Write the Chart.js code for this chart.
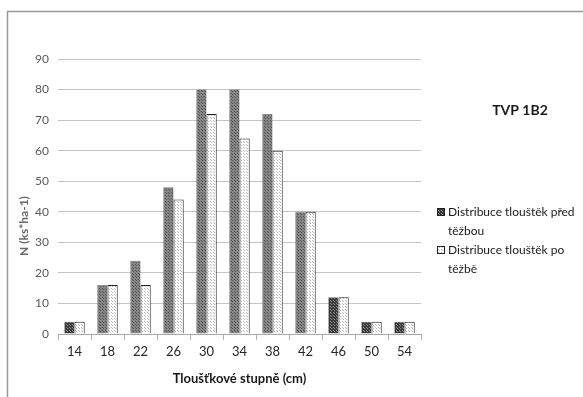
<!DOCTYPE html>
<html>
<head>
<meta charset="utf-8">
<script src="https://cdn.jsdelivr.net/npm/chart.js@4/dist/chart.umd.min.js"></script>
<style>
  html, body { margin: 0; padding: 0; background: #fff; }
  #wrap { width: 583px; height: 397px; position: relative; }
</style>
</head>
<body>
<div id="wrap"><canvas id="c" width="583" height="397"></canvas></div>
<script>
// Diameter classes (cm) and stem counts per hectare
const categories = ['14', '18', '22', '26', '30', '34', '38', '42', '46', '50', '54'];
const beforeHarvest = [4, 16, 24, 48, 80, 80, 72, 40, 12, 4, 4];
const afterHarvest = [4, 16, 16, 44, 72, 64, 60, 40, 12, 4, 4];
const yTicks = [0, 10, 20, 30, 40, 50, 60, 70, 80, 90];
const seriesNames = ['Distribuce tlouštěk před těžbou', 'Distribuce tlouštěk po těžbě'];
const chartTitle = 'TVP 1B2';
const yTitle = 'N (ks*ha-1)';
const xTitle = 'Tloušťkové stupně (cm)';

const FONT = 'Lato, "Open Sans", sans-serif';

// Stippled fills
function dotPattern(bg, dot, size) {
  const c = document.createElement('canvas');
  c.width = size; c.height = size;
  const g = c.getContext('2d');
  g.fillStyle = bg; g.fillRect(0, 0, size, size);
  g.fillStyle = dot;
  g.fillRect(0, 0, 1, 1);
  g.fillRect(Math.floor(size / 2), Math.floor(size / 2), 1, 1);
  return g.createPattern(c, 'repeat');
}
const ctx0 = document.getElementById('c').getContext('2d');
const grayFill = dotPattern('#858585', '#555555', 3);
const darkFill = dotPattern('#3c3c3c', '#8a8a8a', 3);
const whiteFill = dotPattern('#ffffff', '#b8b8b8', 3);
const darkCats = ['14', '46', '50', '54'];
const beforeFill = categories.map(c => darkCats.includes(c) ? darkFill : grayFill);

// Frame lines, titles and legend
const decor = {
  id: 'decor',
  beforeDraw(chart) {
    const g = chart.ctx;
    g.save();
    g.strokeStyle = '#9a9a9a';
    g.lineWidth = 1.5;
    g.beginPath();
    g.moveTo(7.5, 397); g.lineTo(7.5, 11.5); g.lineTo(583, 11.5);
    g.stroke();
    g.restore();
  },
  afterDraw(chart) {
    const g = chart.ctx;
    const area = chart.chartArea;
    g.save();
    g.fillStyle = '#1a1a1a';
    g.font = 'bold 14px ' + FONT;
    g.textAlign = 'center'; g.textBaseline = 'middle';
    g.fillText(chartTitle, 520, 110);

    // x axis title
    g.font = 'bold 13px ' + FONT;
    g.fillText(xTitle, (area.left + area.right) / 2, 379);

    // legend
    const items = [
      { fill: darkFill, lines: ['Distribuce tlouštěk před', 'těžbou'], y: 212 },
      { fill: whiteFill, lines: ['Distribuce tlouštěk po', 'těžbě'], y: 250 }
    ];
    g.font = '12px ' + FONT;
    g.textAlign = 'left';
    items.forEach(it => {
      g.fillStyle = it.fill;
      g.fillRect(437, it.y - 4, 8, 8);
      g.strokeStyle = '#222'; g.lineWidth = 1;
      g.strokeRect(437.5, it.y - 3.5, 7, 7);
      g.fillStyle = '#1a1a1a';
      g.fillText(it.lines[0], 448, it.y);
      g.fillText(it.lines[1], 448, it.y + 19);
    });

    // y axis title
    g.translate(24, 226);
    g.rotate(-Math.PI / 2);
    g.textAlign = 'center';
    g.font = 'bold 12px ' + FONT;
    g.fillStyle = '#6a6a6a';
    g.fillText(yTitle, 0, 0);
    g.restore();
  }
};

new Chart(ctx0, {
  type: 'bar',
  data: {
    labels: categories,
    datasets: [
      {
        label: seriesNames[0],
        data: beforeHarvest,
        backgroundColor: beforeFill,
        borderColor: '#555',
        borderWidth: 0.5,
        categoryPercentage: 0.62,
        barPercentage: 1.0
      },
      {
        label: seriesNames[1],
        data: afterHarvest,
        backgroundColor: whiteFill,
        borderColor: '#222',
        borderWidth: 1,
        categoryPercentage: 0.62,
        barPercentage: 1.0
      }
    ]
  },
  options: {
    responsive: false,
    animation: false,
    layout: { padding: { left: 0, right: 162, top: 59, bottom: 0 } },
    plugins: {
      legend: { display: false },
      tooltip: { enabled: false }
    },
    scales: {
      x: {
        offset: true,
        grid: { display: true, drawOnChartArea: false, offset: true, tickLength: 6, color: '#b0b0b0' },
        border: { display: true, color: '#a8a8a8' },
        ticks: { color: '#262626', font: { family: FONT, size: 13 }, padding: 4 },
        title: { display: false },
        afterFit(s) { s.height = 63; }
      },
      y: {
        min: 0, max: 90,
        afterBuildTicks(s) { s.ticks = yTicks.map(v => ({ value: v })); },
        grid: { color: '#c4c4c4', drawTicks: false },
        border: { display: false },
        ticks: { color: '#5a5a5a', font: { family: FONT, size: 12 }, padding: 9 },
        afterFit(s) { s.width = 58; }
      }
    }
  },
  plugins: [decor]
});
</script>
</body>
</html>
